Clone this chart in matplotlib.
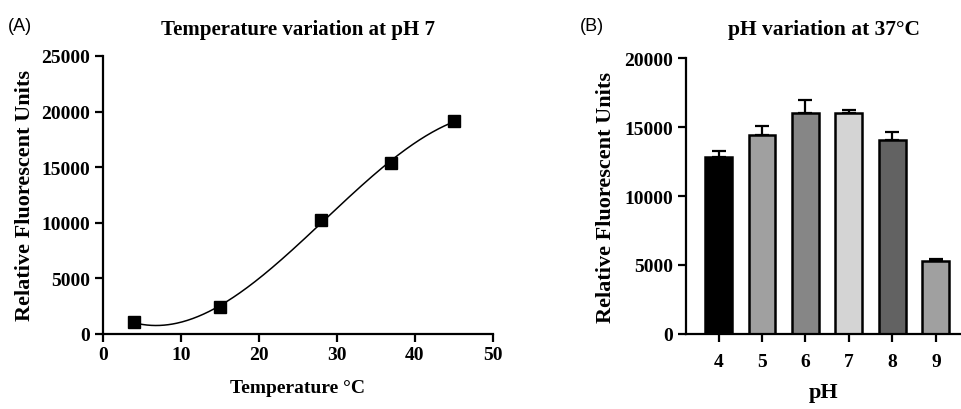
import numpy as np
import matplotlib
matplotlib.use("Agg")
import matplotlib.pyplot as plt

# Panel A data
temps = [4, 15, 28, 37, 45]
rfu_temp = [1050, 2400, 10250, 15350, 19150]
rfu_temp_err = [150, 150, 200, 450, 150]

# Panel B data
ph_labels = ["4", "5", "6", "7", "8", "9"]
ph_vals = [4, 5, 6, 7, 8, 9]
rfu_ph = [12800, 14450, 16050, 15990, 14030, 5290]
rfu_ph_err = [440, 650, 900, 240, 580, 120]
bar_colors = ["#000000", "#a0a0a0", "#868686", "#d4d4d4", "#626262", "#a0a0a0"]

plt.rcParams['font.family'] = "Liberation Serif"
plt.rcParams['font.weight'] = "bold"

fig = plt.figure(figsize=(9.62, 4.10), dpi=100)

def style_axes(ax):
    for s in ["top", "right"]:
        ax.spines[s].set_visible(False)
    for s in ["left", "bottom"]:
        ax.spines[s].set_linewidth(1.6)
    ax.tick_params(width=1.6, length=6, labelsize=14, pad=3)

# Panel A
axA = fig.add_axes([0.107, 0.183, 0.405, 0.678])
coef = np.polyfit(temps, rfu_temp, 3)
xs = np.linspace(min(temps), max(temps), 300)
axA.plot(xs, np.polyval(coef, xs), color="black", lw=1.1)
axA.errorbar(temps, rfu_temp, yerr=rfu_temp_err, fmt="s", color="black",
             ms=8.5, capsize=3, elinewidth=1.2)
axA.set_xlim(0, 50)
axA.set_ylim(0, 25000)
axA.set_xticks([0, 10, 20, 30, 40, 50])
axA.set_yticks([0, 5000, 10000, 15000, 20000, 25000])
style_axes(axA)
axA.set_xlabel("Temperature °C", fontsize=14, fontweight="bold", labelpad=11)
axA.set_ylabel("Relative Fluorescent Units", fontsize=16, fontweight="bold", labelpad=5)
axA.set_title("Temperature variation at pH 7", fontsize=15, fontweight="bold", pad=16)
fig.text(0.008, 0.935, "(A)", fontsize=13, family="Liberation Sans",
         fontweight="normal", va="center")

# Panel B
axB = fig.add_axes([0.713, 0.183, 0.287, 0.673])
axB.bar(ph_vals, rfu_ph, width=0.62, color=bar_colors, edgecolor="black",
        linewidth=1.8, zorder=2)
axB.errorbar(ph_vals, rfu_ph, yerr=[np.zeros(len(rfu_ph)), rfu_ph_err], fmt="none",
             ecolor="black", elinewidth=1.6, capsize=5, capthick=1.6, zorder=1)
axB.set_xlim(3.25, 9.6)
axB.set_ylim(0, 20000)
axB.set_xticks(ph_vals)
axB.set_xticklabels(ph_labels)
axB.set_yticks([0, 5000, 10000, 15000, 20000])
style_axes(axB)
axB.tick_params(axis="x", pad=8)
axB.set_xlabel("pH", fontsize=16, fontweight="bold", labelpad=8)
axB.set_ylabel("Relative Fluorescent Units", fontsize=16, fontweight="bold", labelpad=6)
axB.set_title("pH variation at 37°C", fontsize=15.5, fontweight="bold", pad=17)
fig.text(0.603, 0.935, "(B)", fontsize=13, family="Liberation Sans",
         fontweight="normal", va="center")

fig.savefig("out.png", dpi=100)
